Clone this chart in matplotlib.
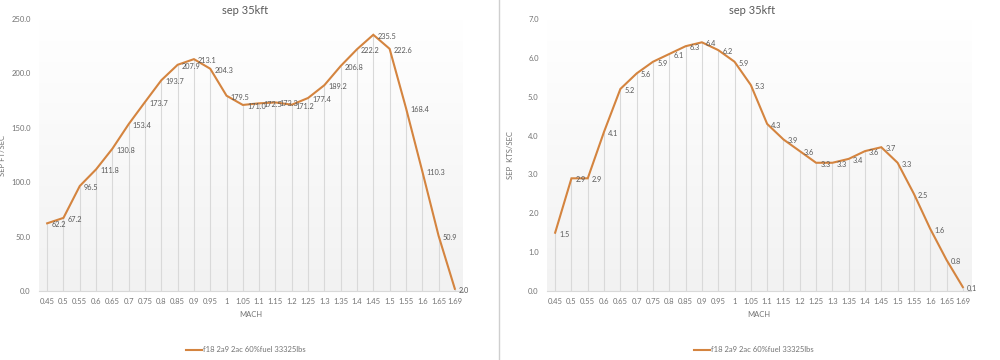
import matplotlib
matplotlib.use("Agg")
import matplotlib.pyplot as plt
from matplotlib.lines import Line2D
import numpy as np

plt.rcParams['font.family'] = ['Lato', 'DejaVu Sans']

mach = ['0.45', '0.5', '0.55', '0.6', '0.65', '0.7', '0.75', '0.8', '0.85', '0.9',
        '0.95', '1', '1.05', '1.1', '1.15', '1.2', '1.25', '1.3', '1.35', '1.4',
        '1.45', '1.5', '1.55', '1.6', '1.65', '1.69']

sep_fts = [62.2, 67.2, 96.5, 111.8, 130.8, 153.4, 173.7, 193.7, 207.9, 213.1,
           204.3, 179.5, 171.0, 172.5, 173.3, 171.2, 177.4, 189.2, 206.8, 222.2,
           235.5, 222.6, 168.4, 110.3, 50.9, 2.0]

sep_kts = [1.5, 2.9, 2.9, 4.1, 5.2, 5.6, 5.9, 6.1, 6.3, 6.4,
           6.2, 5.9, 5.3, 4.3, 3.9, 3.6, 3.3, 3.3, 3.4, 3.6,
           3.7, 3.3, 2.5, 1.6, 0.8, 0.1]

title = 'sep 35kft'
series_name = 'f18 2a9 2ac 60%fuel 33325lbs'

W, H = 1000, 360
line_col = '#d4843f'
txt_col = '#595959'
tick_col = '#737373'
grid_col = '#d9d9d9'

fig = plt.figure(figsize=(W / 100, H / 100), dpi=100)
fig.patch.set_facecolor('white')


def draw(left_px, vals, ymax, ystep, ylabel, title_x, legend_x):
    ax = fig.add_axes([left_px / W, (H - 291) / H, 424 / W, 272 / H])
    x = np.arange(len(vals))
    ax.set_xlim(-0.5, len(vals) - 0.5)
    ax.set_ylim(0, ymax)

    # faint gradient fill of the plot area
    grad = np.linspace(0, 1, 100).reshape(-1, 1)
    ax.imshow(grad, extent=(-0.5, len(vals) - 0.5, 0, ymax), aspect='auto',
              cmap=matplotlib.colors.LinearSegmentedColormap.from_list(
                  'g', ['#f2f2f2', '#ffffff']),
              origin='lower', zorder=0)

    ax.vlines(x, 0, vals, color=grid_col, lw=0.8, zorder=1)
    ax.plot(x, vals, color=line_col, lw=1.5, zorder=3, label=series_name,
            solid_joinstyle='miter')

    for xi, v in zip(x, vals):
        ax.annotate('%.1f' % v, (xi, v), xytext=(3, -1), textcoords='offset points',
                    ha='left', va='center', fontsize=5.3, color=txt_col, zorder=4)

    ax.set_xticks(x)
    ax.set_xticklabels(mach)
    ax.set_yticks(np.arange(0, ymax + ystep / 2, ystep))
    ax.yaxis.set_major_formatter(matplotlib.ticker.FormatStrFormatter('%.1f'))
    ax.tick_params(length=0, labelsize=5.5, colors=tick_col)
    ax.tick_params(axis='y', pad=6)
    ax.tick_params(axis='x', pad=5)
    for s in ['top', 'right', 'left']:
        ax.spines[s].set_visible(False)
    ax.spines['bottom'].set_color(grid_col)
    ax.spines['bottom'].set_linewidth(0.8)

    ax.set_xlabel('MACH', fontsize=5.5, color=tick_col)
    ax.xaxis.set_label_coords(0.5, -0.075)
    ax.set_ylabel(ylabel, fontsize=5.5, color=tick_col)
    ax.yaxis.set_label_coords(-0.078, 0.5)

    fig.text(title_x / W, 1 - 10 / H, title, ha='center', va='center',
             fontsize=8, color=txt_col)
    ax.legend(loc='center', bbox_to_anchor=(legend_x / W, 10 / H),
              bbox_transform=fig.transFigure, frameon=False, fontsize=5.5,
              labelcolor=tick_col, handlelength=2.0, handletextpad=0.2)


draw(39, sep_fts, 250, 50, 'SEP FT/SEC', 245, 246)
draw(547, sep_kts, 7, 1, 'SEP  KTS/SEC', 752, 754)

fig.add_artist(Line2D([0.499, 0.499], [0, 1], color='#cfcfcf', lw=1.0,
                      transform=fig.transFigure))

fig.savefig('out.png', dpi=100, facecolor='white')
